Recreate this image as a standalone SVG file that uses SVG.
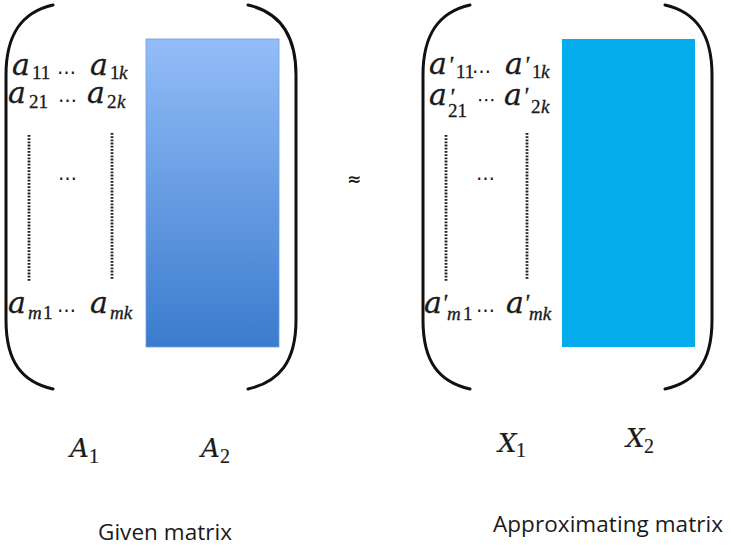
<svg xmlns="http://www.w3.org/2000/svg" width="731" height="546" viewBox="0 0 731 546">
<style>
.br{fill:none;stroke:#111;stroke-width:3;stroke-linecap:round}
.m{font-family:"DejaVu Serif","Liberation Serif",serif;font-style:italic;font-size:30px;fill:#1a1a1a;stroke:#1a1a1a;stroke-width:0.3}
.s{font-family:"Liberation Serif","DejaVu Serif",serif;font-style:normal;font-size:19px;stroke-width:0.3}
.si{font-family:"Liberation Serif","DejaVu Serif",serif;font-style:italic;font-size:19px;stroke-width:0.3}
.p{font-family:"Liberation Serif","DejaVu Serif",serif;font-style:italic;font-size:24px}
.d{font-family:"DejaVu Sans",sans-serif;font-size:19px;fill:#1a1a1a}
.dot{stroke:#222;stroke-width:2.8;stroke-dasharray:1.8 1.4;fill:none}
.lab{font-family:"DejaVu Serif","Liberation Serif",serif;font-style:italic;font-size:26px;fill:#1a1a1a;stroke:#1a1a1a;stroke-width:0.2}
.labs{font-family:"Liberation Serif","DejaVu Serif",serif;font-style:normal;font-size:20px}
.cap{font-family:"Open Sans","Noto Sans",sans-serif;font-size:22.5px;fill:#1a1a1a}
</style>
<defs>
<linearGradient id="gA" x1="0" y1="0" x2="0" y2="1">
<stop offset="0" stop-color="#93bdf7"/>
<stop offset="1" stop-color="#3b7bce"/>
</linearGradient>
</defs>

<g id="given-matrix">
<path class="br" d="M53,5 C22,12 6,34 6,75 L6,320 C6,362 22,382 53,389"/>
<path class="br" d="M248,5 C279,12 296,34 296,75 L296,320 C296,362 279,382 248,389"/>
<rect x="146" y="39" width="133" height="308" fill="url(#gA)" stroke="#6f9fe0" stroke-width="0.8"/>
<text class="m" x="12" y="75">a<tspan class="s" x="32" y="79">11</tspan></text>
<text class="d" x="57" y="74">…</text>
<text class="m" x="90" y="75">a<tspan class="s" x="110" y="79">1</tspan><tspan class="si" x="119" y="79">k</tspan></text>
<text class="m" x="8" y="103">a<tspan class="s" x="29" y="108">21</tspan></text>
<text class="d" x="58" y="102">…</text>
<text class="m" x="87" y="103">a<tspan class="s" x="107" y="108">2</tspan><tspan class="si" x="117" y="108">k</tspan></text>
<line class="dot" x1="29" y1="135" x2="29" y2="282"/>
<line class="dot" x1="112" y1="133" x2="112" y2="280"/>
<text class="d" x="58" y="180">…</text>
<text class="m" x="8" y="313">a<tspan class="si" x="28" y="319">m</tspan><tspan class="s" x="43" y="319">1</tspan></text>
<text class="d" x="57" y="312">…</text>
<text class="m" x="90" y="313">a<tspan class="si" x="110" y="319">mk</tspan></text>
</g>

<g id="approx-sign">
<text x="354" y="185" text-anchor="middle" font-family="DejaVu Sans, sans-serif" font-size="17" font-weight="bold" fill="#222">≈</text>
</g>

<g id="approximating-matrix">
<path class="br" d="M470,5 C439,12 423,34 423,75 L423,320 C423,362 439,382 470,389"/>
<path class="br" d="M665,5 C696,12 712,34 712,75 L712,320 C712,362 696,382 665,389"/>
<rect x="562" y="39" width="133" height="308" fill="#05acec"/>
<text class="m" x="429" y="74">a<tspan class="p" x="448" y="72">'</tspan><tspan class="s" x="456" y="78">11</tspan></text>
<text class="d" x="472" y="73">…</text>
<text class="m" x="505" y="74">a<tspan class="p" x="524" y="72">'</tspan><tspan class="s" x="532" y="78">1</tspan><tspan class="si" x="541" y="78">k</tspan></text>
<text class="m" x="429" y="105">a<tspan class="p" x="449" y="104">'</tspan><tspan class="s" x="448" y="117">21</tspan></text>
<text class="d" x="477" y="106">⋯</text>
<text class="m" x="504" y="105">a<tspan class="p" x="523" y="103">'</tspan><tspan class="s" x="531" y="113">2</tspan><tspan class="si" x="541" y="113">k</tspan></text>
<line class="dot" x1="446" y1="135" x2="446" y2="282"/>
<line class="dot" x1="527" y1="133" x2="527" y2="280"/>
<text class="d" x="476" y="180">…</text>
<text class="m" x="424" y="313">a<tspan class="p" x="442" y="310">'</tspan><tspan class="si" x="447" y="320">m</tspan><tspan class="s" x="463" y="320">1</tspan></text>
<text class="d" x="476" y="312">…</text>
<text class="m" x="506" y="313">a<tspan class="p" x="524" y="310">'</tspan><tspan class="si" x="529" y="320">mk</tspan></text>
</g>

<g id="labels">
<text class="lab" x="70" y="457">A<tspan class="labs" x="89" y="463">1</tspan></text>
<text class="lab" x="201" y="457">A<tspan class="labs" x="220" y="463">2</tspan></text>
<text class="lab" x="498" y="452">X<tspan class="labs" x="516" y="457">1</tspan></text>
<text class="lab" x="626" y="447">X<tspan class="labs" x="644" y="453">2</tspan></text>
<text class="cap" x="98" y="540" textLength="134" lengthAdjust="spacing">Given matrix</text>
<text class="cap" x="493" y="532" textLength="230" lengthAdjust="spacing">Approximating matrix</text>
</g>
</svg>
